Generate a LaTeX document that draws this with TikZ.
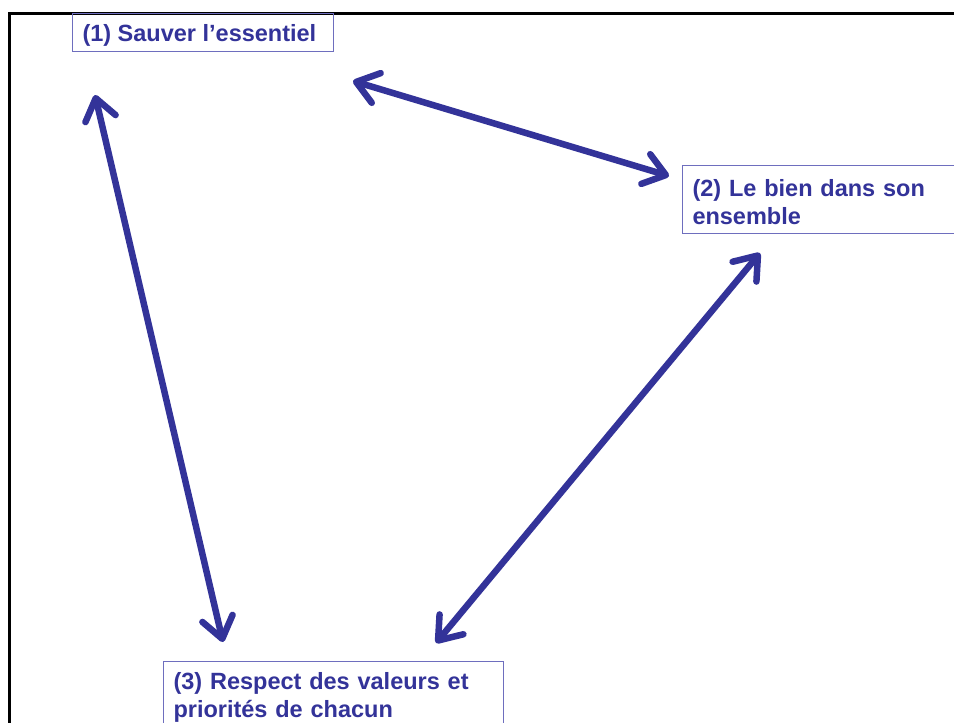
\documentclass[tikz,border=0pt]{standalone}
\usepackage{fontspec}
\setmainfont{Liberation Sans}
\usetikzlibrary{arrows.meta}
\definecolor{navy}{RGB}{51,51,153}
\definecolor{boxline}{RGB}{110,110,190}
\tikzset{
  lbl/.style={draw=boxline, line width=1pt, anchor=north west, inner xsep=10pt,
    text=navy, font=\bfseries\fontsize{23.5}{28.5}\selectfont, align=left},
  link/.style={draw=navy, line width=6.5pt, line cap=round,
    {Straight Barb[round,length=21pt,width=31pt]}-{Straight Barb[round,length=21pt,width=31pt]}}
}
\begin{document}
\begin{tikzpicture}[x=1pt,y=-1pt]
\clip (0,0) rectangle (954,723);
\fill[white] (0,0) rectangle (954,723);
\draw[black, line width=3pt] (9.5,13.5) rectangle (1100,900);
\node[lbl, inner ysep=9pt, text height=19pt, text depth=1pt] (n1) at (72,13) {\makebox[241pt][l]{(1) Sauver l’essentiel}};
\node[lbl, inner ysep=0pt, minimum height=68pt, text width=380pt] (n2) at (682,165) {\rule{0pt}{22pt}(2) Le bien dans son\\ensemble};
\node[lbl, inner ysep=10.5pt, text width=320pt] (n3) at (163,661) {(3) Respect des valeurs et\\priorités de chacun};
\coordinate (a1s) at (95,95);
\coordinate (a1e) at (223,642);
\coordinate (a2s) at (353,81);
\coordinate (a2e) at (669,176);
\coordinate (a3s) at (760,253);
\coordinate (a3e) at (436,643);
\draw[link] (a1s) -- (a1e);
\draw[link] (a2s) -- (a2e);
\draw[link] (a3s) -- (a3e);
\end{tikzpicture}
\end{document}
